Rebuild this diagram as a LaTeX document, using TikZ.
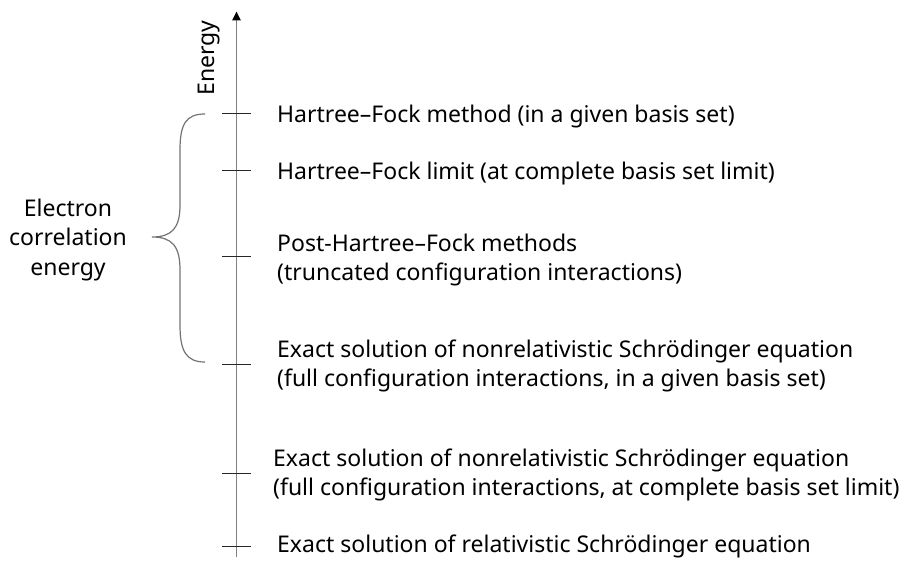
\documentclass[tikz,border=0pt]{standalone}
\usepackage{fontspec}
\setmainfont{Noto Sans}
\usetikzlibrary{arrows.meta}
\begin{document}
\begin{tikzpicture}[x=1pt,y=-1pt,
  lbl/.style={anchor=west,align=left,inner sep=0pt,font=\fontsize{23}{29.5}\selectfont},
  tick/.style={draw=black!85,line width=1pt},
  axisline/.style={draw=black!50,line width=1.5pt,-{Triangle[length=9pt,width=8.5pt,color=black]}},
  bracestyle/.style={draw=black!55,line width=1.2pt}]
\useasboundingbox (0,0) rectangle (901,561);
\coordinate (abot) at (236.5,557);
\coordinate (atop) at (236.5,11.5);
\draw[axisline] (abot) -- (atop);
\node[rotate=90,inner sep=0pt,font=\fontsize{23}{23}\selectfont] (energy) at (209,58) {Energy};
\foreach \n/\y in {t1/114,t2/171,t3/256.5,t4/364,t5/473,t6/546}{
  \coordinate (\n a) at (222,\y);
  \coordinate (\n b) at (251,\y);
  \draw[tick] (\n a) -- (\n b);
}
\node[lbl] (l1) at (277,117) {Hartree–Fock method (in a given basis set)};
\node[lbl] (l2) at (277,174) {Hartree–Fock limit (at complete basis set limit)};
\node[lbl] (l3) at (277,260) {Post-Hartree–Fock methods\\(truncated configuration interactions)};
\node[lbl] (l4) at (277,366) {Exact solution of nonrelativistic Schrödinger equation\\(full configuration interactions, in a given basis set)};
\node[lbl] (l5) at (273,475) {Exact solution of nonrelativistic Schrödinger equation\\(full configuration interactions, at complete basis set limit)};
\node[lbl] (l6) at (277,546.5) {Exact solution of relativistic Schrödinger equation};
\node[align=center,inner sep=0pt,font=\fontsize{23}{29.5}\selectfont] (ece) at (68,240) {Electron\\correlation\\energy};
\coordinate (bt) at (205,114);
\coordinate (bm) at (152,237);
\coordinate (bb) at (205,362);
\draw[bracestyle] (bt) .. controls (186,114) and (180,124) .. (180,150) -- (180,205)
  .. controls (180,228) and (172,237) .. (bm)
  .. controls (172,237) and (180,246) .. (180,270) -- (180,325)
  .. controls (180,351) and (186,362) .. (bb);
\end{tikzpicture}
\end{document}
